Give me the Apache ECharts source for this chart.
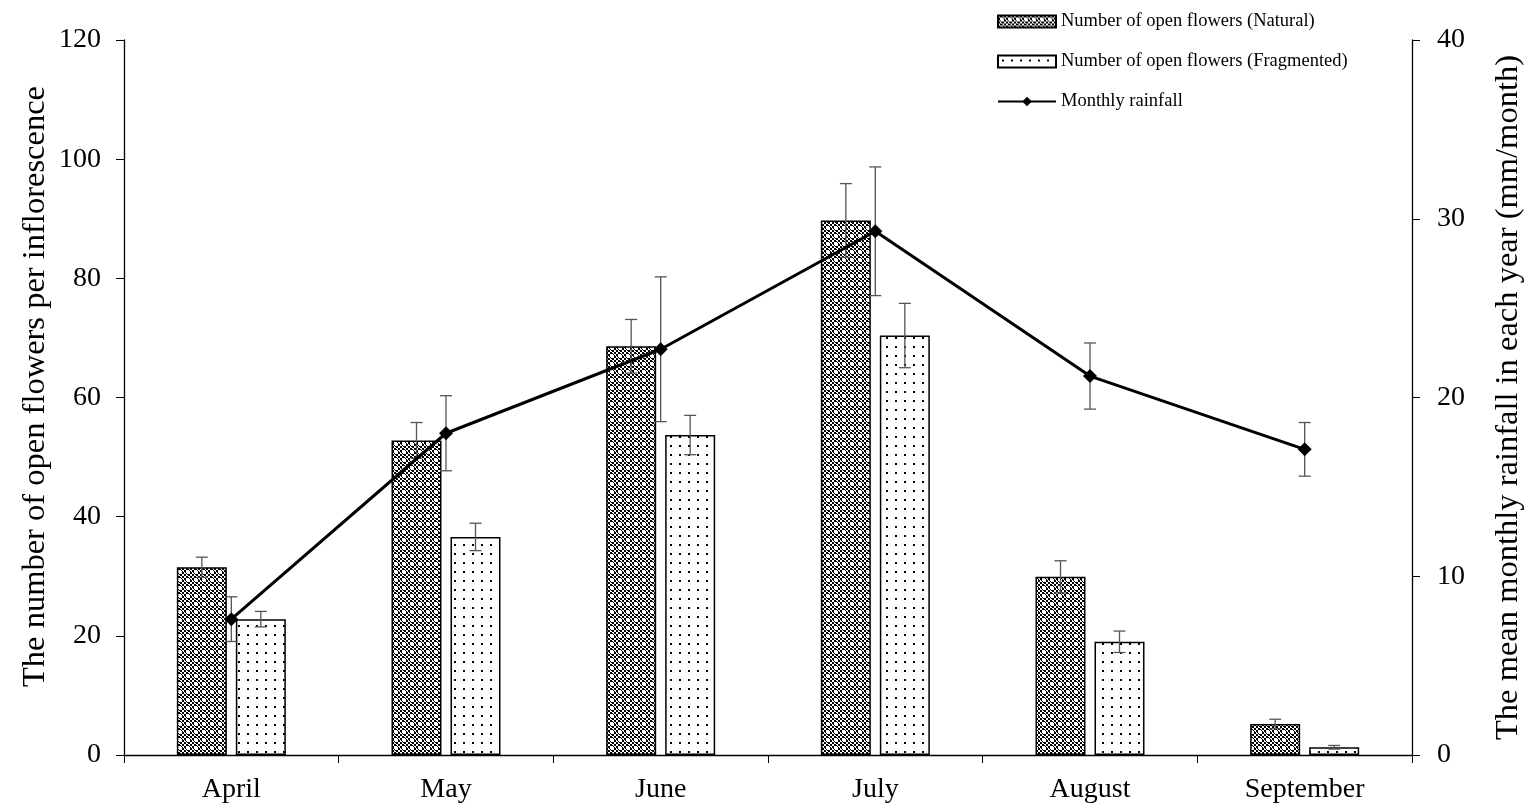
<!DOCTYPE html>
<html>
<head>
<meta charset="utf-8">
<script src="https://cdn.jsdelivr.net/npm/echarts@6/dist/echarts.min.js"></script>
<style>html,body{margin:0;padding:0;background:#fff;}#chart{width:1536px;height:812px;}</style>
</head>
<body>
<div id="chart"></div>
<script>
const months = ['April', 'May', 'June', 'July', 'August', 'September'];
const naturalFlowers = [31.5, 52.8, 68.6, 89.7, 29.9, 5.2];
const naturalErr = [1.7, 3.0, 4.5, 6.2, 2.7, 0.8];
const fragmentedFlowers = [22.8, 36.6, 53.7, 70.4, 19.0, 1.3];
const fragmentedErr = [1.3, 2.3, 3.3, 5.4, 1.8, 0.3];
const rainfall = [7.6, 18.0, 22.7, 29.3, 21.2, 17.1];
const rainfallErr = [1.25, 2.1, 4.05, 3.6, 1.85, 1.5];
const leftTicks = [0, 20, 40, 60, 80, 100, 120];
const rightTicks = [0, 10, 20, 30, 40];

function makeNaturalPattern() {
  const c = document.createElement('canvas');
  c.width = 8; c.height = 8;
  const g = c.getContext('2d');
  g.fillStyle = '#000'; g.fillRect(0, 0, 8, 8);
  g.fillStyle = '#fff';
  for (let y = 0; y < 8; y += 2) for (let x = 0; x < 8; x += 2) {
    if (((x + y) / 2) % 2 === 0) g.fillRect(x, y, 2, 2);
  }
  g.fillStyle = '#000';
  g.fillRect(3, 1, 2, 6); g.fillRect(1, 3, 6, 2);
  g.fillStyle = '#fff';
  g.fillRect(3, 2, 2, 4); g.fillRect(2, 3, 4, 2);
  return c;
}
function makeFragPattern() {
  const c = document.createElement('canvas');
  c.width = 9; c.height = 9;
  const g = c.getContext('2d');
  g.fillStyle = '#fff'; g.fillRect(0, 0, 9, 9);
  g.fillStyle = '#000'; g.fillRect(4, 4, 2, 2);
  return c;
}
const natPat = { image: makeNaturalPattern(), repeat: 'repeat' };
const fragPat = { image: makeFragPattern(), repeat: 'repeat' };

const FONT = 'Liberation Serif';
const BAR_W = 50, BAR_OFF = 29.5;

function errData(vals, errs) {
  return vals.map((v, i) => [i, v - errs[i], v + errs[i]]);
}
function errRender(offset) {
  return function (params, api) {
    const i = api.value(0);
    const lo = api.coord([i, api.value(1)]);
    const hi = api.coord([i, api.value(2)]);
    const x = lo[0] + offset;
    const cap = 6;
    const style = { stroke: '#555', lineWidth: 1.3, fill: null };
    return {
      type: 'group',
      children: [
        { type: 'line', shape: { x1: x, y1: lo[1], x2: x, y2: hi[1] }, style },
        { type: 'line', shape: { x1: x - cap, y1: lo[1], x2: x + cap, y2: lo[1] }, style },
        { type: 'line', shape: { x1: x - cap, y1: hi[1], x2: x + cap, y2: hi[1] }, style }
      ]
    };
  };
}

const chart = echarts.init(document.getElementById('chart'));
chart.setOption({
  backgroundColor: '#fff',
  animation: false,
  grid: { left: 124, right: 124, top: 40, bottom: 57 },
  legend: {
    orient: 'vertical', left: 992, top: 6,
    itemWidth: 58, itemHeight: 12, itemGap: 19,
    textStyle: { fontFamily: FONT, fontSize: 18.5, color: '#000', lineHeight: 21 },
    data: [
      { name: 'Number of open flowers (Natural)', icon: 'rect' },
      { name: 'Number of open flowers (Fragmented)', icon: 'rect' },
      { name: 'Monthly rainfall' }
    ]
  },
  xAxis: {
    type: 'category', data: months,
    axisLine: { lineStyle: { color: '#000', width: 1.3 } },
    axisTick: { show: true, length: 8, lineStyle: { color: '#000' } },
    axisLabel: { fontFamily: FONT, fontSize: 28, color: '#000', margin: 21 }
  },
  yAxis: [
    {
      type: 'value', min: 0, max: 120, interval: 20,
      name: 'The number of open flowers per inflorescence',
      nameLocation: 'middle', nameGap: 72, nameRotate: 90, nameMoveOverlap: false,
      nameTextStyle: { fontFamily: FONT, fontSize: 32.5, color: '#000', padding: [0, 0, 0, 22] },
      axisLine: { show: true, lineStyle: { color: '#000', width: 1.3 } },
      axisTick: { show: true, length: 8, lineStyle: { color: '#000' } },
      axisLabel: { fontFamily: FONT, fontSize: 28, color: '#000', margin: 23,
        formatter: v => leftTicks.includes(v) ? String(v) : '' },
      splitLine: { show: false }
    },
    {
      type: 'value', min: 0, max: 40, interval: 10,
      name: 'The mean monthly rainfall in each year (mm/month)',
      nameLocation: 'middle', nameGap: 80, nameRotate: 90,
      nameTextStyle: { fontFamily: FONT, fontSize: 32.5, color: '#000' },
      axisLine: { show: true, lineStyle: { color: '#000', width: 1.3 } },
      axisTick: { show: true, length: 8, lineStyle: { color: '#000' } },
      axisLabel: { fontFamily: FONT, fontSize: 28, color: '#000', margin: 25,
        formatter: v => rightTicks.includes(v) ? String(v) : '' },
      splitLine: { show: false }
    }
  ],
  series: [
    {
      name: 'Number of open flowers (Natural)', type: 'bar', data: naturalFlowers,
      barWidth: BAR_W, barGap: '18%',
      itemStyle: { color: natPat, borderColor: '#000', borderWidth: 1.5 }, z: 2
    },
    {
      name: 'Number of open flowers (Fragmented)', type: 'bar', data: fragmentedFlowers,
      barWidth: BAR_W,
      itemStyle: { color: fragPat, borderColor: '#000', borderWidth: 1.5 }, z: 2
    },
    {
      name: 'natErr', type: 'custom', renderItem: errRender(-BAR_OFF),
      data: errData(naturalFlowers, naturalErr), z: 3, silent: true
    },
    {
      name: 'fragErr', type: 'custom', renderItem: errRender(BAR_OFF),
      data: errData(fragmentedFlowers, fragmentedErr), z: 3, silent: true
    },
    {
      name: 'Monthly rainfall', type: 'line', yAxisIndex: 1, data: rainfall,
      symbol: 'diamond', symbolSize: 14,
      lineStyle: { color: '#000', width: 3 },
      itemStyle: { color: '#000' }, z: 5
    },
    {
      name: 'rainErr', type: 'custom', yAxisIndex: 1, renderItem: errRender(0),
      data: errData(rainfall, rainfallErr), z: 4, silent: true
    }
  ]
});
</script>
</body>
</html>
